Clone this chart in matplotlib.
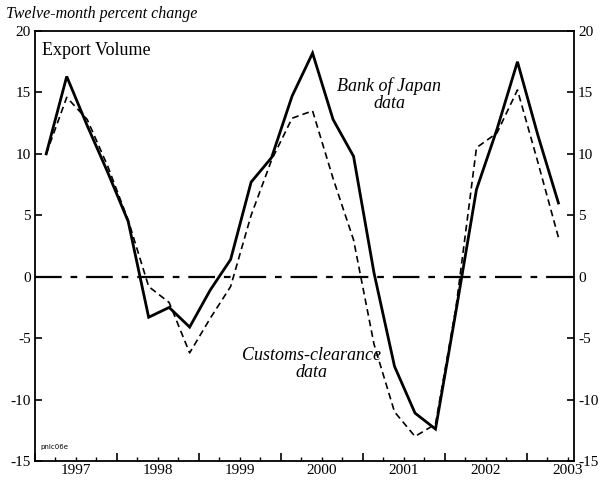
import numpy as np
import matplotlib
matplotlib.use('Agg')
import matplotlib.pyplot as plt

matplotlib.rcParams['font.family'] = 'Liberation Serif'
matplotlib.rcParams['axes.unicode_minus'] = False

# quarterly observations, 1997Q1 - 2003Q2
quarters = [f"{y}Q{q}" for y in range(1997, 2004) for q in range(1, 5)][:26]
boj = [10.0, 16.3, 12.3, 8.5, 4.5, -3.3, -2.5, -4.1, -1.1, 1.4, 7.7, 9.7, 14.7,
       18.2, 12.8, 9.8, 0.3, -7.3, -11.1, -12.4, -2.8, 7.1, 12.0, 17.5, 11.5, 6.0]
customs = [10.0, 14.6, 12.8, 9.0, 4.6, -0.8, -2.1, -6.2, -3.4, -0.8, 5.0, 9.5, 12.9,
           13.5, 8.0, 3.0, -5.5, -11.0, -13.0, -12.0, -2.5, 10.5, 11.7, 15.2, 9.3, 3.2]
years = [1997, 1998, 1999, 2000, 2001, 2002, 2003]

t = np.array([int(s[:4]) + (int(s[5]) - 1) / 4 + 0.137 for s in quarters])

fig = plt.figure(figsize=(6.0, 4.82), dpi=100)
ax = fig.add_axes([35/600, 1 - 461/482, (574 - 35)/600, (461 - 31)/482])

ax.plot(t, boj, color='black', lw=2.0, solid_joinstyle='miter')
ax.plot(t, customs, color='black', lw=1.2, dashes=(4, 2.5))
ax.axhline(0, color='black', lw=1.6, linestyle=(0, (12, 4, 3, 4)))

ax.set_xlim(1997.028, 2003.577)
ax.set_ylim(-15, 20)

ax.set_yticks(np.arange(-15, 21, 5))
ax.tick_params(axis='y', direction='in', length=5, width=1.2, labelsize=11,
               right=True, labelright=True, pad=3)

ax.set_xticks(years)
ax.set_xticks(np.arange(1997, 2003.6, 0.25), minor=True)
ax.tick_params(axis='x', which='major', direction='in', length=6, width=1.2,
               labelbottom=False)
ax.tick_params(axis='x', which='minor', direction='in', length=3, width=1.0)

sec = ax.secondary_xaxis('bottom')
sec.set_xticks([y + 0.5 for y in years], [str(y) for y in years])
sec.tick_params(length=0, labelsize=11, pad=2)
sec.spines['bottom'].set_visible(False)

for s in ax.spines.values():
    s.set_linewidth(1.3)

ax.text(1997.09, 18.4, 'Export Volume', fontsize=13, ha='left', va='center')
ax.text(2001.32, 14.8, 'Bank of Japan\ndata', fontsize=13, style='italic',
        ha='center', va='center', linespacing=1.0)
ax.text(2000.37, -7.1, 'Customs-clearance\ndata', fontsize=13, style='italic',
        ha='center', va='center', linespacing=1.0)
ax.text(1997.06, -14.1, 'pnlc06e', fontsize=5, family='DejaVu Sans',
        ha='left', va='bottom')

fig.text(6/600, 1 - 14/482, 'Twelve-month percent change', fontsize=11.5,
         style='italic', ha='left', va='center')

fig.savefig('out.png', dpi=100)
